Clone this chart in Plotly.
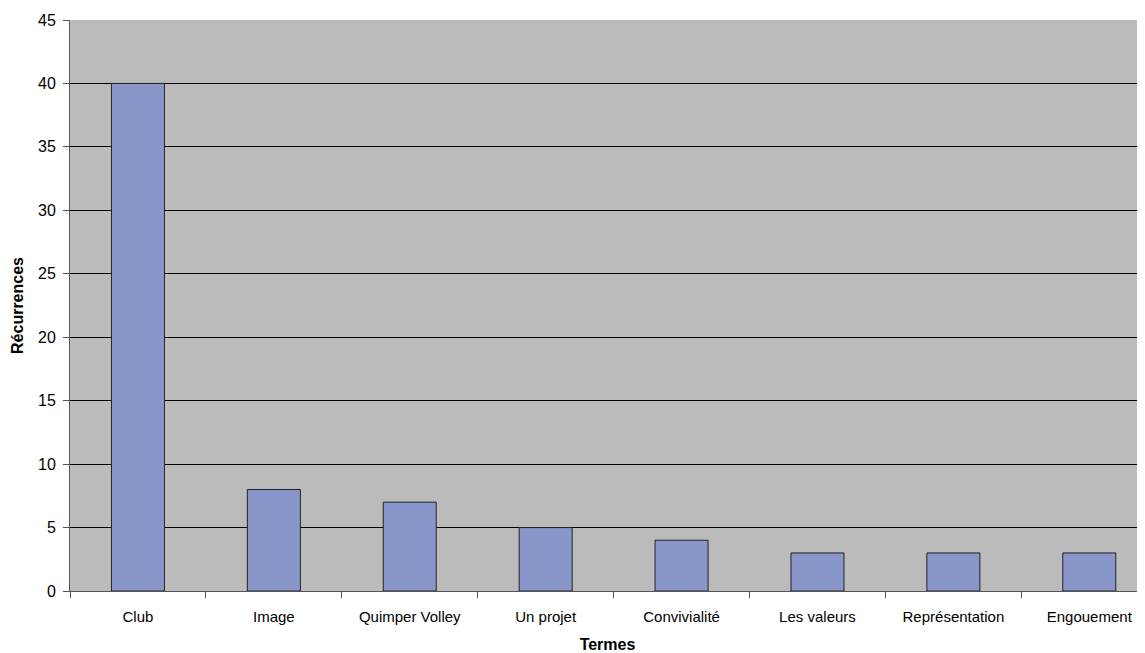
import plotly.graph_objects as go

termes = ["Club", "Image", "Quimper Volley", "Un projet", "Convivialité",
          "Les valeurs", "Représentation", "Engouement"]
recurrences = [40, 8, 7, 5, 4, 3, 3, 3]

fig = go.Figure(go.Bar(
    x=termes, y=recurrences,
    marker=dict(color="#8896c9", line=dict(color="#222222", width=1)),
    width=0.39,
))

# page body has an 8px margin, so the figure is shifted by 8px
# the original chart is cut off on the right, so the x range stops short
fig.update_layout(
    width=1137, height=645,
    margin=dict(l=62, r=0, t=12, b=62, autoexpand=False),
    paper_bgcolor="white", plot_bgcolor="#bbbbbb",
    font=dict(family="Liberation Sans, Arial, sans-serif", size=15, color="black"),
    showlegend=False,
    xaxis=dict(
        title=dict(text="<b>Termes</b>", font=dict(size=16), standoff=15),
        range=[-0.5, 7.41],
        tickson="boundaries", ticks="outside", ticklen=6, tickcolor="#555555",
        showline=True, linecolor="#555555", linewidth=1,
        showgrid=False, tickfont=dict(size=15), ticklabelstandoff=12,
    ),
    yaxis=dict(
        title=dict(text="<b>Récurrences</b>", font=dict(size=16), standoff=10),
        range=[0, 45], dtick=5, ticks="outside", ticklen=6, tickcolor="#555555",
        showline=True, linecolor="#555555", linewidth=1,
        showgrid=True, gridcolor="black", gridwidth=1,
        zeroline=False, tickfont=dict(size=16), ticklabelstandoff=4,
    ),
)

fig.write_html("out.html")
